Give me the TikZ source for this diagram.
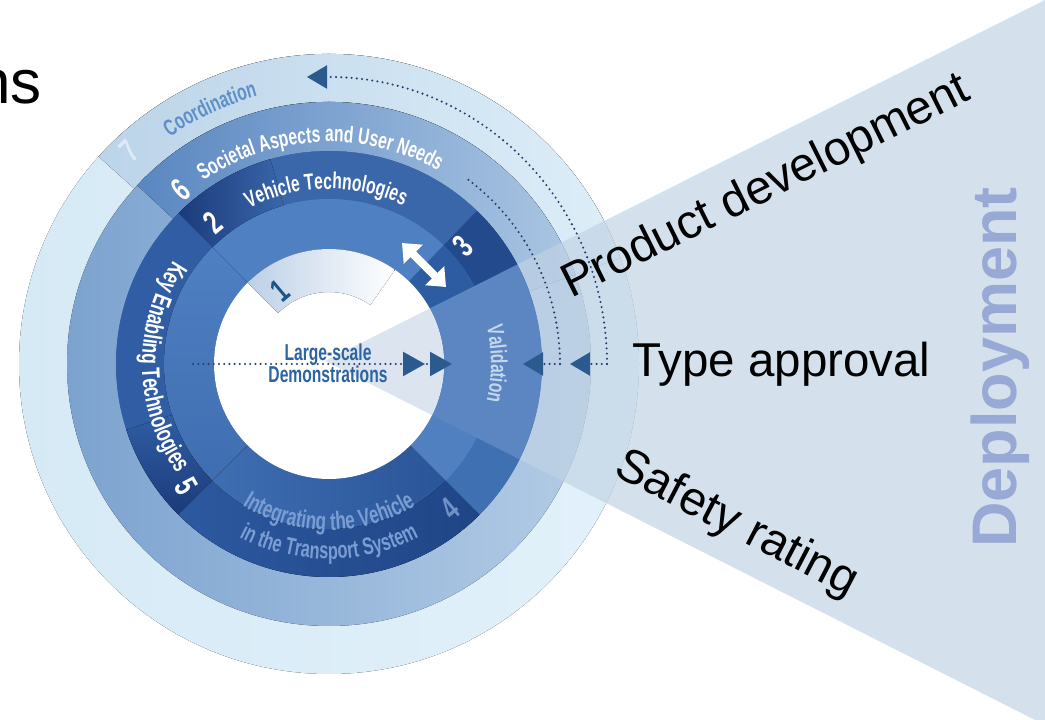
\documentclass[tikz,border=0pt]{standalone}
\usepackage{fontspec}
\setmainfont{Liberation Sans}
\newfontfamily\cfont[FakeStretch=0.68]{Liberation Sans}
\usetikzlibrary{arrows.meta,decorations.text}
\definecolor{r7L}{HTML}{D6EAF6}
\definecolor{r7R}{HTML}{E2F1FA}
\definecolor{s7L}{HTML}{BCD4E9}
\definecolor{s7R}{HTML}{DDEEF8}
\definecolor{r6L}{HTML}{7CA3CF}
\definecolor{r6R}{HTML}{B3CCE6}
\definecolor{s6L}{HTML}{5A87C1}
\definecolor{s6R}{HTML}{ABC6E3}
\definecolor{dk}{HTML}{3A66AA}
\definecolor{dkfive}{HTML}{305DA3}
\definecolor{inb}{HTML}{4F80C2}
\definecolor{inbfive}{HTML}{3F6DB1}
\definecolor{navy}{HTML}{1B3B7B}
\definecolor{dkfourL}{HTML}{2D59A0}
\definecolor{navyfour}{HTML}{1F4585}
\definecolor{inbfourL}{HTML}{3F6EB2}
\definecolor{inbfourR}{HTML}{2A5598}
\definecolor{dkR}{HTML}{3F70B2}
\definecolor{inbR}{HTML}{5080C0}
\definecolor{threed}{HTML}{234A8C}
\definecolor{threei}{HTML}{2E5CA2}
\definecolor{val}{HTML}{5B86C2}
\definecolor{wedgec}{HTML}{C1D3E4}
\definecolor{wedgein}{HTML}{DCE5EF}
\definecolor{onec}{HTML}{BDD0E7}
\definecolor{dotc}{HTML}{23406F}
\definecolor{tipc}{HTML}{2B5A8E}
\definecolor{demo}{HTML}{2D63A0}
\definecolor{depl}{HTML}{98A9D5}
\definecolor{coordc}{HTML}{5D90C6}
\definecolor{integ}{HTML}{7A9ED3}
\definecolor{valtext}{HTML}{C5D7EC}
\definecolor{sevenc}{HTML}{DCEBF6}
\definecolor{onetext}{HTML}{1E5586}
\definecolor{fourc}{HTML}{6F92C6}
\tikzset{
  ann/.style n args={4}{insert path={(#3:#2) arc[start angle=#3,end angle=#4,radius=#2] -- (#4:#1) arc[start angle=#4,end angle=#3,radius=#1] -- cycle}},
  dots/.style={line width=2.3pt, line cap=round, dash pattern=on 0pt off 5.2pt, draw=dotc},
  tipl/.style={-{Triangle[length=20pt,width=23pt,color=tipc]}},
  big/.style={font=\fontsize{47.5}{47.5}\selectfont, text=black, inner sep=0pt},
  num/.style={font=\cfont\bfseries\fontsize{33}{33}\selectfont, inner sep=0pt},
  ringtext/.style n args={3}{decorate, decoration={text along path, text align=center,
     text={|\cfont\bfseries\fontsize{#3}{#3}\selectfont\color{#1}|#2}}},
}
\begin{document}
\begin{tikzpicture}[x=1pt,y=1pt]
\useasboundingbox (0,0) rectangle (1045,720);
\fill[white] (0,0) rectangle (1045,720);

\node[font=\fontsize{62}{62}\selectfont, anchor=base west, inner sep=0pt] (ns) at (-24,616) {ns};

\begin{scope}[shift={(329,356)}]
  % ring 7
  \fill[left color=r7L,right color=r7R] (0,0) circle[radius=310];
  \fill[left color=s7L,right color=s7R,ann={262}{310}{20}{138}];
  % ring 6
  \fill[left color=r6L,right color=r6R] (0,0) circle[radius=262];
  \fill[left color=s6L,right color=s6R,ann={213}{262}{20}{137}];
  % dark and inner bands
  \fill[dk] (0,0) circle[radius=213];
  \fill[inb] (0,0) circle[radius=165];
  % section 2 navy
  \fill[left color=navy,right color=dk,ann={165}{213}{106}{135}];
  % section 5
  \fill[dkfive,ann={165}{213}{135}{225}];
  \fill[top color=inb,bottom color=inbfive,ann={115}{165}{135}{225}];
  \fill[top color=dkfive,bottom color=navy,ann={165}{213}{198}{225}];
  % section 4
  \fill[left color=dkfourL,middle color=dk,right color=navyfour,ann={165}{213}{225}{315}];
  \fill[left color=inbfourL,middle color=inb,right color=inbfourR,ann={115}{165}{225}{315}];
  \fill[dkR,ann={165}{213}{315}{340}];
  \fill[inbR,ann={115}{165}{315}{340}];
  % section 3
  \fill[threed,ann={165}{213}{20}{46}];
  \fill[threei,ann={115}{165}{20}{46}];
  % centre
  \fill[white] (0,0) circle[radius=115];
  \fill[left color=onec,right color=white,ann={72}{115}{55}{135}];
  % deployment wedge
  \begin{scope}
    \clip (-4,3) -- (716,364) -- (716,-361) -- cycle;
    \fill[wedgec,opacity=.68,even odd rule] (0,0) circle[radius=213] (-400,-400) rectangle (800,800);
    \fill[val,even odd rule] (0,0) circle[radius=213] (0,0) circle[radius=115];
    \fill[wedgein] (0,0) circle[radius=115];
  \end{scope}

  % ring texts
  \path[ringtext={coordc}{Coordination}{23}] (140:277) arc[start angle=140,end angle=90,radius=277];
  \path[ringtext={white}{Societal Aspects and User Needs}{23}] (152.5:222) arc[start angle=152.5,end angle=32.5,radius=222];
  \path[ringtext={white}{Vehicle Technologies}{23}] (151:175) arc[start angle=151,end angle=31,radius=175];
  \path[ringtext={white}{Key Enabling Technologies}{25.5}] (136:187) arc[start angle=136,end angle=226,radius=187];
  \path[ringtext={integ}{Integrating the Vehicle}{25}] (225:166) arc[start angle=225,end angle=315,radius=166];
  \path[ringtext={integ}{in the Transport System}{24}] (225:195) arc[start angle=225,end angle=315,radius=195];
  \path[ringtext={valtext}{Validation}{23}] (25:162) arc[start angle=25,end angle=-25,radius=162];

  % numbers
  \node[num,text=sevenc,rotate=43] (n7) at (-200,213) {7};
  \node[num,text=white,rotate=41] (n6) at (-148,174) {6};
  \node[num,text=white,rotate=40] (n2) at (-116,141) {2};
  \node[num,text=onetext,rotate=40] (n1) at (-49,73) {1};
  \node[num,text=white,rotate=45] (n3) at (134,118) {3};
  \node[num,text=fourc,rotate=40] (n4) at (121,-145) {4};
  \node[num,text=white,rotate=-60] (n5) at (-143,-122) {5};

  % connectors
  \coordinate (outerStart) at (278,0);
  \coordinate (outerEnd) at (-22,287);
  \coordinate (outerTip) at (241,0);
  \coordinate (innerStart) at (231,0);
  \coordinate (innerTip) at (194,0);
  \coordinate (centreStart) at (-136,0);
  \coordinate (centreTip) at (123,0);
  \coordinate (dblA) at (73,121);
  \coordinate (dblB) at (117,77);

  \draw[dots,tipl] (outerStart) arc[start angle=0,end angle=90,x radius=278,y radius=287] -- (outerEnd);
  \draw[dots,tipl] (outerStart) -- (outerTip);
  \draw[dots] (innerStart) arc[start angle=0,end angle=53,radius=231];
  \draw[dots,tipl] (innerStart) -- (innerTip);
  \draw[dots,-{Triangle[length=22pt,width=24pt,color=tipc,sep=5pt]Triangle[length=22pt,width=24pt,color=tipc]}] (centreStart) -- (centreTip);
  \draw[white,line width=8pt,{Triangle[length=16pt,width=26pt]}-{Triangle[length=16pt,width=26pt]}] (dblA) -- (dblB);

  \node[font=\cfont\bfseries\fontsize{23}{22}\selectfont, text=demo, align=center, inner sep=0pt] (demo) at (-1,1) {Large-scale\\Demonstrations};
\end{scope}

\node[big,anchor=base west] (type) at (632,343) {Type approval};
\node[big,anchor=base west,rotate=26.5] (prod) at (571,421) {Product development};
\node[big,anchor=base west,rotate=-27.5] (safety) at (612,246) {Safety rating};
\node[font=\bfseries\fontsize{63}{63}\selectfont, text=depl, anchor=base west, rotate=90, inner sep=0pt] (depl) at (1016,172) {Deployment};
\end{tikzpicture}
\end{document}
